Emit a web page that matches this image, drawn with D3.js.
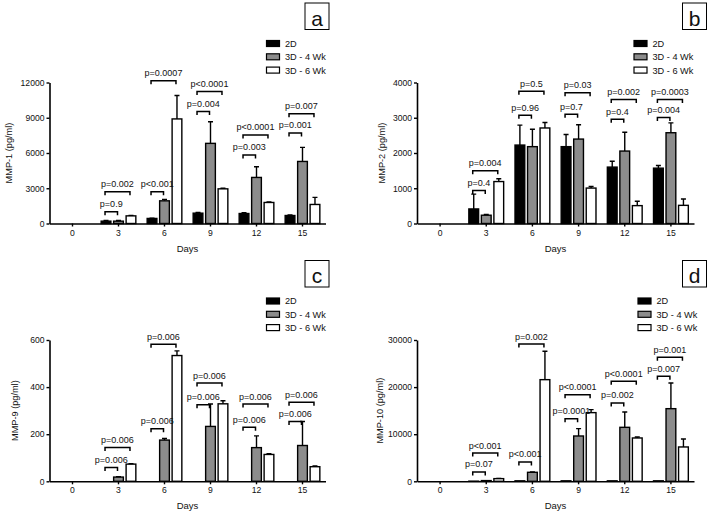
<!DOCTYPE html>
<html>
<head>
<meta charset="utf-8">
<script src="https://cdn.jsdelivr.net/npm/d3@7"></script>
<style>
  body { margin: 0; background: #fff; }
  svg { display: block; font-family: "Liberation Sans", Arial, sans-serif; }
</style>
</head>
<body>
<svg id="fig" width="712" height="515"></svg>
<script>
var days = ["0", "3", "6", "9", "12", "15"];
var seriesNames = ["2D", "3D - 4 Wk", "3D - 6 Wk"];
var seriesFill = ["#000000", "#8c8c8c", "#ffffff"];

// a: MMP-1
var mmp1Ticks = [0, 3000, 6000, 9000, 12000];
var mmp1_2D   = [0, 200, 430, 880, 850, 680];
var mmp1_2Derr = [0, 50, 30, 60, 60, 50];
var mmp1_4wk  = [0, 200, 1930, 6820, 3920, 5280];
var mmp1_4wkErr = [0, 60, 120, 1840, 910, 1200];
var mmp1_6wk  = [0, 650, 8900, 2950, 1790, 1620];
var mmp1_6wkErr = [0, 40, 2000, 50, 40, 600];
var mmp1Pvals = [
  ["3", 0, 1, 990, "p=0.9"], ["3", 0, 2, 2700, "p=0.002"],
  ["6", 0, 1, 2700, "p<0.001"], ["6", 0, 2, 12150, "p=0.0007"],
  ["9", 0, 1, 9525, "p=0.004"], ["9", 0, 2, 11230, "p<0.0001"],
  ["12", 0, 1, 5830, "p=0.003"], ["12", 0, 2, 7540, "p<0.0001"],
  ["15", 0, 1, 7710, "p=0.001"], ["15", 0, 2, 9330, "p=0.007"]
];

// b: MMP-2
var mmp2Ticks = [0, 1000, 2000, 3000, 4000];
var mmp2_2D   = [0, 413, 2225, 2180, 1600, 1570];
var mmp2_2Derr = [0, 420, 565, 345, 165, 75];
var mmp2_4wk  = [0, 235, 2180, 2395, 2055, 2575];
var mmp2_4wkErr = [0, 20, 495, 405, 535, 280];
var mmp2_6wk  = [0, 1190, 2710, 1005, 507, 515];
var mmp2_6wkErr = [0, 80, 155, 45, 123, 180];
var mmp2Pvals = [
  ["3", 0, 1, 938, "p=0.4"], ["3", 0, 2, 1493, "p=0.004"],
  ["6", 0, 1, 3070, "p=0.96"], ["6", 0, 2, 3755, "p=0.5"],
  ["9", 0, 1, 3100, "p=0.7"], ["9", 0, 2, 3710, "p=0.03"],
  ["12", 0, 1, 2958, "p=0.4"], ["12", 0, 2, 3521, "p=0.002"],
  ["15", 0, 1, 3006, "p=0.004"], ["15", 0, 2, 3521, "p=0.0003"]
];

// c: MMP-9
var mmp9Ticks = [0, 200, 400, 600];
var mmp9_2D   = [0, 0, 0, 0, 0, 0];
var mmp9_2Derr = [0, 0, 0, 0, 0, 0];
var mmp9_4wk  = [0, 18, 175, 233, 143, 152];
var mmp9_4wkErr = [0, 2, 7, 95, 50, 102];
var mmp9_6wk  = [0, 73, 534, 329, 114, 62];
var mmp9_6wkErr = [0, 2, 20, 13, 3, 3];
var mmp9Pvals = [
  ["3", 0, 1, 59, "p=0.006"], ["3", 0, 2, 144, "p=0.006"],
  ["6", 0, 1, 223, "p=0.006"], ["6", 0, 2, 582, "p=0.006"],
  ["9", 0, 1, 325, "p=0.006"], ["9", 0, 2, 417, "p=0.006"],
  ["12", 0, 1, 229, "p=0.006"], ["12", 0, 2, 328, "p=0.006"],
  ["15", 0, 1, 254, "p=0.006"], ["15", 0, 2, 336, "p=0.006"]
];

// d: MMP-10
var mmp10Ticks = [0, 10000, 20000, 30000];
var mmp10_2D   = [0, 30, 100, 100, 100, 100];
var mmp10_2Derr = [0, 0, 0, 0, 0, 0];
var mmp10_4wk  = [0, 150, 1910, 9620, 11460, 15420];
var mmp10_4wkErr = [0, 0, 100, 1560, 3260, 5450];
var mmp10_6wk  = [0, 566, 21580, 14580, 9200, 7290];
var mmp10_6wkErr = [0, 50, 6020, 630, 210, 1700];
var mmp10Pvals = [
  ["3", 0, 1, 2000, "p=0.07"], ["3", 0, 2, 6000, "p<0.001"],
  ["6", 0, 1, 4100, "p<0.001"], ["6", 0, 2, 29150, "p=0.002"],
  ["9", 0, 1, 13300, "p=0.0001"], ["9", 0, 2, 18400, "p<0.0001"],
  ["12", 0, 1, 16630, "p=0.002"], ["12", 0, 2, 21230, "p<0.0001"],
  ["15", 0, 1, 22290, "p=0.007"], ["15", 0, 2, 26320, "p=0.001"]
];

var panels = [
  {tag: "a", ylab: "MMP-1 (pg/ml)", ticks: mmp1Ticks,
   means: [mmp1_2D, mmp1_4wk, mmp1_6wk], errs: [mmp1_2Derr, mmp1_4wkErr, mmp1_6wkErr], pvals: mmp1Pvals,
   left: 49.5, top: 82.5, width: 276, height: 141, ylabOff: 41, legX: 216.5, boxX: 255.5},
  {tag: "b", ylab: "MMP-2 (pg/ml)", ticks: mmp2Ticks,
   means: [mmp2_2D, mmp2_4wk, mmp2_6wk], errs: [mmp2_2Derr, mmp2_4wkErr, mmp2_6wkErr], pvals: mmp2Pvals,
   left: 417, top: 82.5, width: 277, height: 141, ylabOff: 35.5, legX: 216.5, boxX: 265.5},
  {tag: "c", ylab: "MMP-9 (pg/ml)", ticks: mmp9Ticks,
   means: [mmp9_2D, mmp9_4wk, mmp9_6wk], errs: [mmp9_2Derr, mmp9_4wkErr, mmp9_6wkErr], pvals: mmp9Pvals,
   left: 49.5, top: 340, width: 276, height: 141.3, ylabOff: 34.5, legX: 216.5, boxX: 255.5},
  {tag: "d", ylab: "MMP-10 (pg/ml)", ticks: mmp10Ticks,
   means: [mmp10_2D, mmp10_4wk, mmp10_6wk], errs: [mmp10_2Derr, mmp10_4wkErr, mmp10_6wkErr], pvals: mmp10Pvals,
   left: 417, top: 340, width: 277, height: 141.3, ylabOff: 37, legX: 220.5, boxX: 265.5}
];

var svg = d3.select("#fig");
var ink = "#111";

function drawPanel(p) {
  var g = svg.append("g")
      .attr("transform", "translate(" + p.left + "," + p.top + ")");
  var h = p.height;

  var x0 = d3.scaleBand().domain(days).range([0, p.width]);
  var bw = x0.bandwidth();
  var x1 = d3.scaleBand().domain(seriesNames)
      .range([bw * 0.123, bw * 0.877]).paddingInner(0.22);
  var y = d3.scaleLinear().domain([0, p.ticks[p.ticks.length - 1]]).range([h, 0]);

  // bars
  seriesNames.forEach(function(s, i) {
    var rows = days.map(function(d, j) { return {day: d, v: p.means[i][j], e: p.errs[i][j]}; });
    g.selectAll(".bar" + i)
        .data(rows)
      .enter().append("rect")
        .attr("x", function(d) { return x0(d.day) + x1(s); })
        .attr("y", function(d) { return y(d.v); })
        .attr("width", x1.bandwidth())
        .attr("height", function(d) { return h - y(d.v); })
        .attr("fill", seriesFill[i])
        .attr("stroke", "#000")
        .attr("stroke-width", 1.4);
    // error bars (upper only)
    var withErr = rows.filter(function(d) { return d.e > 0; });
    var cx = function(d) { return x0(d.day) + x1(s) + x1.bandwidth() / 2; };
    g.selectAll(".err" + i)
        .data(withErr)
      .enter().append("path")
        .attr("d", function(d) {
          var c = cx(d), yt = y(d.v + d.e);
          return "M" + c + "," + y(d.v) + "V" + yt + "M" + (c - 2.5) + "," + yt + "H" + (c + 2.5);
        })
        .attr("fill", "none")
        .attr("stroke", "#000")
        .attr("stroke-width", 1.4);
  });

  // significance brackets
  var bc = function(day, si) { return x0(day) + x1(seriesNames[si]) + x1.bandwidth() / 2 - 1; };
  var br = g.selectAll(".pv")
      .data(p.pvals)
    .enter().append("g");
  br.append("path")
      .attr("d", function(d) {
        var a = bc(d[0], d[1]), b = bc(d[0], d[2]), yy = y(d[3]);
        return "M" + a + "," + (yy + 3.5) + "V" + yy + "H" + b + "V" + (yy + 3.5);
      })
      .attr("fill", "none")
      .attr("stroke", "#000")
      .attr("stroke-width", 1.5);
  br.append("text")
      .attr("x", function(d) { return (bc(d[0], d[1]) + bc(d[0], d[2])) / 2; })
      .attr("y", function(d) { return y(d[3]) - 4.5; })
      .attr("text-anchor", "middle")
      .style("font-size", "9px")
      .attr("fill", ink)
      .text(function(d) { return d[4]; });

  // axes
  var yAx = g.append("g")
      .call(d3.axisLeft(y).tickValues(p.ticks).tickFormat(d3.format("d"))
            .tickSize(3).tickSizeOuter(0).tickPadding(2));
  var xAx = g.append("g")
      .attr("transform", "translate(0," + h + ")")
      .call(d3.axisBottom(x0).tickSize(3).tickSizeOuter(0).tickPadding(3));
  [yAx, xAx].forEach(function(ax) {
    ax.select(".domain").attr("stroke", "#000").attr("stroke-width", 1.6);
    ax.selectAll(".tick line").attr("stroke", "#000").attr("stroke-width", 1.4);
    ax.selectAll(".tick text").attr("fill", ink)
      .style("font-size", "8.6px").style("font-family", "'Liberation Sans', Arial, sans-serif");
  });

  g.append("text")
      .attr("transform", "translate(" + (-p.ylabOff) + "," + (h / 2) + ") rotate(-90)")
      .attr("dy", "0.35em")
      .attr("text-anchor", "middle")
      .style("font-size", "9.2px")
      .attr("fill", ink)
      .text(p.ylab);
  g.append("text")
      .attr("x", p.width / 2)
      .attr("y", h + 28)
      .attr("text-anchor", "middle")
      .style("font-size", "9.5px")
      .attr("fill", ink)
      .text("Days");

  // legend
  var leg = g.selectAll(".leg")
      .data(seriesNames)
    .enter().append("g")
      .attr("transform", function(d, i) { return "translate(" + p.legX + "," + (-39 + i * 13.3) + ")"; });
  leg.append("rect")
      .attr("x", 0.5).attr("y", -3)
      .attr("width", 13).attr("height", 6)
      .attr("fill", function(d, i) { return seriesFill[i]; })
      .attr("stroke", "#000").attr("stroke-width", 1.2);
  leg.append("text")
      .attr("x", 19)
      .attr("y", 3.4)
      .style("font-size", "9.2px")
      .attr("fill", ink)
      .text(function(d) { return d; });

  // panel letter box
  g.append("rect")
      .attr("x", p.boxX).attr("y", -79.5)
      .attr("width", 24).attr("height", 26.5)
      .attr("fill", "#fff").attr("stroke", "#000").attr("stroke-width", 1);
  g.append("text")
      .attr("x", p.boxX + 12).attr("y", -57)
      .attr("text-anchor", "middle")
      .style("font-size", "21px")
      .attr("fill", ink)
      .text(p.tag);
}

panels.forEach(drawPanel);
</script>
</body>
</html>
